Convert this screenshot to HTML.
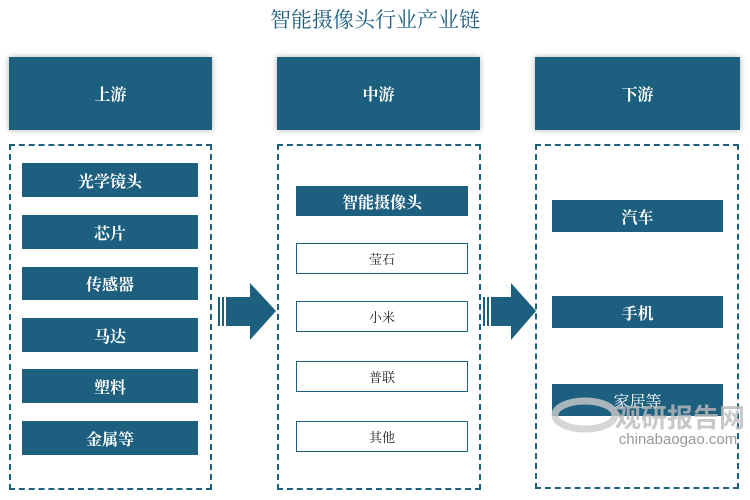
<!DOCTYPE html>
<html><head><meta charset="utf-8"><style>
body{margin:0;width:750px;height:500px;background:#fff;position:relative;overflow:hidden;font-family:"Liberation Serif","Noto Serif CJK SC",serif}
.a{position:absolute;box-sizing:border-box}
.h{background:#1d5f7f;color:#fff;font-size:16px;font-weight:bold;display:flex;align-items:center;justify-content:center;box-shadow:0 0 6px rgba(0,0,0,.3)}
.d{border:2px dashed #1d5f7f}
.f{background:#1d5f7f;color:#fff;font-size:16px;font-weight:bold;display:flex;align-items:center;justify-content:center}
.o{border:1px solid #1d5f7f;color:#222;font-size:13px;display:flex;align-items:center;justify-content:center}
</style></head><body>
<div class="a" style="left:0;top:4px;width:750px;text-align:center;font-size:21px;color:#1d5f7f;font-family:'Noto Serif CJK SC',serif">智能摄像头行业产业链</div>
<div class="a h" style="left:9px;top:57px;width:203px;height:73px">上游</div>
<div class="a h" style="left:277px;top:57px;width:203px;height:73px">中游</div>
<div class="a h" style="left:535px;top:57px;width:205px;height:73px">下游</div>
<div class="a d" style="left:9px;top:144px;width:203px;height:346px"></div>
<div class="a d" style="left:277px;top:144px;width:204px;height:346px"></div>
<div class="a d" style="left:535px;top:144px;width:204px;height:345px"></div>
<div class="a f" style="left:22px;top:163px;width:176px;height:34px">光学镜头</div>
<div class="a f" style="left:22px;top:215px;width:176px;height:34px">芯片</div>
<div class="a f" style="left:22px;top:267px;width:176px;height:33px">传感器</div>
<div class="a f" style="left:22px;top:318px;width:176px;height:34px">马达</div>
<div class="a f" style="left:22px;top:369px;width:176px;height:34px">塑料</div>
<div class="a f" style="left:22px;top:421px;width:176px;height:34px">金属等</div>
<div class="a f" style="left:296px;top:186px;width:172px;height:30px">智能摄像头</div>
<div class="a o" style="left:296px;top:243px;width:172px;height:31px">莹石</div>
<div class="a o" style="left:296px;top:301px;width:172px;height:31px">小米</div>
<div class="a o" style="left:296px;top:361px;width:172px;height:31px">普联</div>
<div class="a o" style="left:296px;top:421px;width:172px;height:31px">其他</div>
<div class="a f" style="left:552px;top:200px;width:171px;height:32px">汽车</div>
<div class="a f" style="left:552px;top:296px;width:171px;height:32px">手机</div>
<div class="a f" style="left:552px;top:384px;width:171px;height:32px;font-weight:normal">家居等</div>
<svg class="a" style="left:0;top:0" width="750" height="500">
<g fill="#1d5f7f">
<rect x="218" y="297" width="2" height="29"/><rect x="222" y="297" width="2" height="29"/>
<polygon points="226,297 250,297 250,283 276,311 250,340 250,326 226,326"/>
<rect x="483" y="297" width="2" height="29"/><rect x="487" y="297" width="2" height="29"/>
<polygon points="491,297 511,297 511,283 536,311 511,340 511,326 491,326"/>
</g>
<ellipse cx="585" cy="415" rx="30" ry="14" fill="none" stroke="#ccc" stroke-width="7" opacity=".8"/>
<text x="680" y="427" font-family="Liberation Sans,Noto Sans CJK SC,sans-serif" font-size="26" font-weight="bold" fill="#bbb" opacity=".8" text-anchor="middle">观研报告网</text>
<text x="678" y="444" font-family="Liberation Sans,sans-serif" font-size="15" fill="#999" text-anchor="middle">chinabaogao.com</text>
</svg>
</body></html>
